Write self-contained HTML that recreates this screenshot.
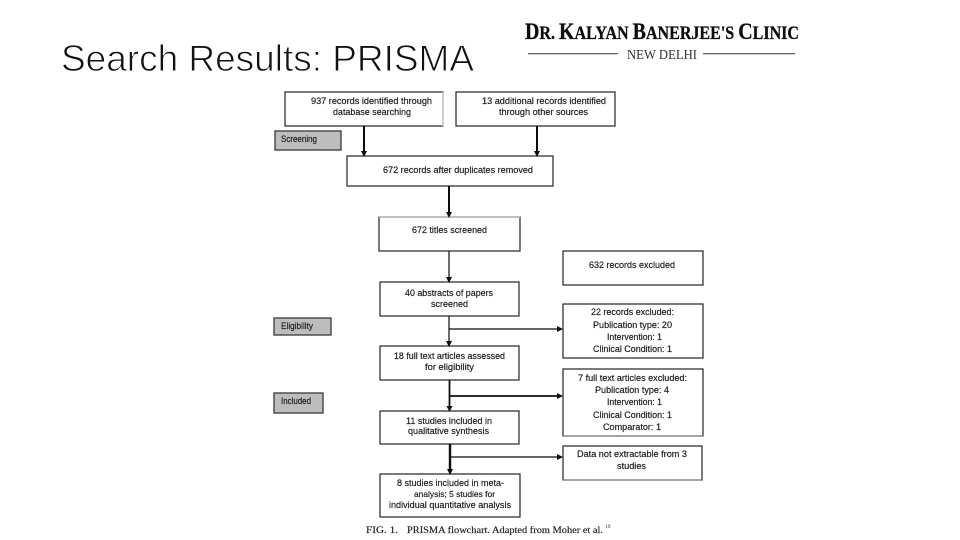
<!DOCTYPE html>
<html lang="en">
<head>
<meta charset="utf-8">
<title>Search Results: PRISMA</title>
<style>
html,body{margin:0;padding:0;background:#fff}
svg{display:block}
.t{font-family:"Liberation Sans",sans-serif;font-size:9px;fill:#1c1c1c;stroke:#1c1c1c;stroke-width:.18}
.b{fill:#fff;stroke:#222;stroke-width:1.2}
.g{fill:#bdbdbd;stroke:#444;stroke-width:1.4}
.l{stroke:#111;fill:none}
.h{fill:#111}
</style>
</head>
<body>
<svg width="960" height="540" viewBox="0 0 960 540" xmlns="http://www.w3.org/2000/svg">
<defs><filter id="s" filterUnits="userSpaceOnUse" x="0" y="0" width="960" height="540"><feGaussianBlur stdDeviation="0.3"/></filter></defs>
<rect width="960" height="540" fill="#fff"/>
<text x="61" y="71" font-family="'Liberation Sans',sans-serif" font-size="37.500" fill="#111" stroke="#fff" stroke-width=".9" textLength="413" lengthAdjust="spacingAndGlyphs">Search Results: PRISMA</text>

<g filter="url(#s)">
<text x="525" y="39" font-family="'Liberation Serif',serif" font-weight="bold" fill="#111" stroke="#111" stroke-width=".3" textLength="274" lengthAdjust="spacingAndGlyphs"><tspan font-size="23">D</tspan><tspan font-size="18.500">R. </tspan><tspan font-size="23">K</tspan><tspan font-size="18.500">ALYAN </tspan><tspan font-size="23">B</tspan><tspan font-size="18.500">ANERJEE'S </tspan><tspan font-size="23">C</tspan><tspan font-size="18.500">LINIC</tspan></text>
<line x1="528" y1="53.700" x2="618" y2="53.700" stroke="#333" stroke-width="1"/>
<line x1="703" y1="53.700" x2="795" y2="53.700" stroke="#333" stroke-width="1"/>
<text x="627" y="59" font-family="'Liberation Serif',serif" font-size="14" fill="#333" textLength="70" lengthAdjust="spacingAndGlyphs">NEW DELHI</text>
</g>

<g filter="url(#s)">
<rect class="b" x="285" y="92" width="158" height="34"/>
<rect class="b" x="456" y="92" width="159" height="34"/>
<rect class="g" x="275" y="131" width="66" height="19"/>
<rect class="b" x="347" y="156" width="206" height="30"/>
<rect class="b" x="379" y="217" width="141" height="34"/>
<rect class="b" x="563" y="251" width="140" height="34"/>
<rect class="b" x="380" y="282" width="139" height="34"/>
<rect class="b" x="563" y="304" width="140" height="54"/>
<rect class="g" x="274" y="318" width="57" height="17"/>
<rect class="b" x="380" y="346" width="139" height="34"/>
<rect class="b" x="563" y="369" width="140" height="67"/>
<rect class="g" x="274" y="393" width="49" height="20"/>
<rect class="b" x="380" y="411" width="139" height="33"/>
<rect class="b" x="563" y="446" width="139" height="34"/>
<rect class="b" x="380" y="474" width="140" height="43"/>
<line x1="443" y1="92" x2="443" y2="126" stroke="#ccc" stroke-width="1.400"/>
<line x1="379" y1="217" x2="520" y2="217" stroke="#bbb" stroke-width="1.400"/>
<line x1="563" y1="436" x2="703" y2="436" stroke="#888" stroke-width="1.200"/>
<line x1="563" y1="480" x2="702" y2="480" stroke="#888" stroke-width="1.200"/>

<line class="l" stroke-width="2" x1="364" y1="126" x2="364" y2="152"/><path class="h" d="M361 151h6l-3 6z"/>
<line class="l" stroke-width="2" x1="537" y1="126" x2="537" y2="152"/><path class="h" d="M534 151h6l-3 6z"/>
<line class="l" stroke-width="2" x1="449" y1="186" x2="449" y2="213"/><path class="h" d="M446 212h6l-3 6z"/>
<line class="l" stroke-width="1.200" x1="449" y1="251" x2="449" y2="278"/><path class="h" d="M446 277h6l-3 6z"/>
<line class="l" stroke-width="1.200" x1="449" y1="316" x2="449" y2="342"/><path class="h" d="M446 341h6l-3 6z"/>
<line class="l" stroke-width="1.200" x1="449" y1="329" x2="558" y2="329"/><path class="h" d="M557 326v6l6-3z"/>
<line class="l" stroke-width="1.800" x1="449.500" y1="380" x2="449.500" y2="407"/><path class="h" d="M446.500 406h6l-3 6z"/>
<line class="l" stroke-width="1.800" x1="449.500" y1="396" x2="558" y2="396"/><path class="h" d="M557 393v6l6-3z"/>
<line class="l" stroke-width="2.400" x1="450" y1="444" x2="450" y2="470"/><path class="h" d="M447 469h6l-3 6z"/>
<line class="l" stroke-width="1.200" x1="450" y1="457" x2="558" y2="457"/><path class="h" d="M557 454v6l6-3z"/>

<text class="t" x="311" y="104" textLength="121" lengthAdjust="spacingAndGlyphs">937 records identified through</text>
<text class="t" x="333" y="115" textLength="78" lengthAdjust="spacingAndGlyphs">database searching</text>
<text class="t" x="482" y="104" textLength="124" lengthAdjust="spacingAndGlyphs">13 additional records identified</text>
<text class="t" x="499" y="115" textLength="89" lengthAdjust="spacingAndGlyphs">through other sources</text>
<text class="t" x="281" y="142" textLength="36" lengthAdjust="spacingAndGlyphs">Screening</text>
<text class="t" x="383" y="173" textLength="150" lengthAdjust="spacingAndGlyphs">672 records after duplicates removed</text>
<text class="t" x="412" y="233" textLength="75" lengthAdjust="spacingAndGlyphs">672 titles screened</text>
<text class="t" x="589" y="268" textLength="86" lengthAdjust="spacingAndGlyphs">632 records excluded</text>
<text class="t" x="405" y="296" textLength="88" lengthAdjust="spacingAndGlyphs">40 abstracts of papers</text>
<text class="t" x="431" y="307" textLength="37" lengthAdjust="spacingAndGlyphs">screened</text>
<text class="t" x="591" y="315" textLength="83" lengthAdjust="spacingAndGlyphs">22 records excluded:</text>
<text class="t" x="593" y="328" textLength="79" lengthAdjust="spacingAndGlyphs">Publication type: 20</text>
<text class="t" x="607" y="340" textLength="55" lengthAdjust="spacingAndGlyphs">Intervention: 1</text>
<text class="t" x="593" y="352" textLength="79" lengthAdjust="spacingAndGlyphs">Clinical Condition: 1</text>
<text class="t" x="281" y="329" textLength="32" lengthAdjust="spacingAndGlyphs">Eligibility</text>
<text class="t" x="394" y="359" textLength="111" lengthAdjust="spacingAndGlyphs">18 full text articles assessed</text>
<text class="t" x="425" y="370" textLength="49" lengthAdjust="spacingAndGlyphs">for eligibility</text>
<text class="t" x="578" y="381" textLength="109" lengthAdjust="spacingAndGlyphs">7 full text articles excluded:</text>
<text class="t" x="595" y="393" textLength="74" lengthAdjust="spacingAndGlyphs">Publication type: 4</text>
<text class="t" x="607" y="405" textLength="55" lengthAdjust="spacingAndGlyphs">Intervention: 1</text>
<text class="t" x="593" y="418" textLength="79" lengthAdjust="spacingAndGlyphs">Clinical Condition: 1</text>
<text class="t" x="603" y="430" textLength="58" lengthAdjust="spacingAndGlyphs">Comparator: 1</text>
<text class="t" x="281" y="404" textLength="30" lengthAdjust="spacingAndGlyphs">Included</text>
<text class="t" x="406" y="424" textLength="86" lengthAdjust="spacingAndGlyphs">11 studies included in</text>
<text class="t" x="408" y="434" textLength="81" lengthAdjust="spacingAndGlyphs">qualitative synthesis</text>
<text class="t" x="577" y="457" textLength="110" lengthAdjust="spacingAndGlyphs">Data not extractable from 3</text>
<text class="t" x="617" y="469" textLength="29" lengthAdjust="spacingAndGlyphs">studies</text>
<text class="t" x="397" y="486" textLength="107" lengthAdjust="spacingAndGlyphs">8 studies included in meta-</text>
<text class="t" x="414" y="497" textLength="81" lengthAdjust="spacingAndGlyphs" style="font-size:8.500px">analysis; 5 studies for</text>
<text class="t" x="389" y="508" textLength="122" lengthAdjust="spacingAndGlyphs">individual quantitative analysis</text>
<text x="366" y="533" font-family="'Liberation Serif',serif" font-size="9" fill="#222" stroke="#222" stroke-width=".15" textLength="32" lengthAdjust="spacingAndGlyphs">FIG. 1.</text>
<text x="407" y="533" font-family="'Liberation Serif',serif" font-size="9" fill="#222" stroke="#222" stroke-width=".15" textLength="196" lengthAdjust="spacingAndGlyphs">PRISMA flowchart. Adapted from Moher et al.</text>
<text x="605" y="528" font-family="'Liberation Serif',serif" font-size="5.500" fill="#222">19</text>
</g>
</svg>
</body>
</html>
